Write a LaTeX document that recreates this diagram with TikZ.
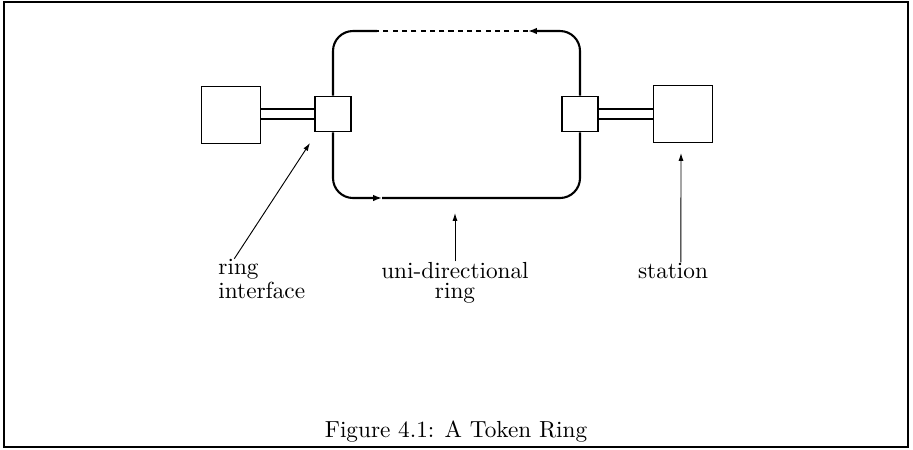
\documentclass[tikz,border=0pt]{standalone}
\usepackage{tikz}
\usetikzlibrary{arrows.meta, positioning, calc}
\newcommand{\pxu}{0.43pt}

\begin{document}
\begin{tikzpicture}[
  x=\pxu, y=-\pxu,
  station/.style = {rectangle, draw, line width=0.8pt, fill=white,
                    minimum width=59*\pxu, minimum height=57*\pxu, inner sep=0pt},
  iface/.style   = {rectangle, draw, line width=0.8pt, fill=white,
                    minimum width=36*\pxu, minimum height=35*\pxu, inner sep=0pt},
  ring/.style    = {line width=0.9pt, rounded corners=8.6pt},
  tokenpath/.style = {line width=0.9pt, dash pattern=on 2.2pt off 1.8pt},
  tip/.style     = {-{Latex[length=3.8pt, width=2.8pt]}},
  link/.style    = {double, double distance=3.7pt, line width=0.55pt},
  pointer/.style = {-{Latex[length=3.4pt, width=2.2pt]}, line width=0.4pt},
  lbl/.style     = {inner sep=0pt, font=\fontsize{10}{8.6}\selectfont}
]
\useasboundingbox (0,0) rectangle (913,449);

% ── Frame ────────────────────────────────────────────────────────────────────
\draw[line width=0.8pt] (4,2) rectangle (908,447);

% ── Stations and ring interfaces ─────────────────────────────────────────────
\node[station] (lst) at (231,115) {};
\node[iface]   (lif) at (333,114) {};
\node[iface]   (rif) at (580,114) {};
\node[station] (rst) at (683,114) {};

\draw[link] (lst.east |- lif) -- (lif);
\draw[link] (rif) -- (rst.west |- rif);

% ── The ring ─────────────────────────────────────────────────────────────────
\coordinate (ba) at (382,198);
\coordinate (ta) at (528,31);
\coordinate (tb) at (377,31);

\draw[ring, tip] (lif.south) |- (ba);
\draw[ring] (ba) -| (rif.south);
\draw[ring, tip] (rif.north) |- (ta);
\draw[tokenpath] (ta) -- (tb);
\draw[ring] (tb) -| (lif.north);

% ── Labels ───────────────────────────────────────────────────────────────────
\node[lbl, anchor=base west, align=left]  (riflbl) at (218,298) {ring\\interface};
\node[lbl, anchor=base, align=center]     (unilbl) at (455,298) {uni-directional\\ring};
\node[lbl, anchor=base]                   (stlbl)  at (673,278) {station};

\coordinate (ifpt)  at (310,143);
\coordinate (unipt) at (455,213);
\coordinate (stpt)  at (681,153);

\draw[pointer] ([xshift=7pt]riflbl.north west) -- (ifpt);
\draw[pointer] (unilbl.north) -- (unipt);
\draw[pointer] ([xshift=3.4pt]stlbl.north) -- (stpt);

% ── Caption ──────────────────────────────────────────────────────────────────
\node[lbl, anchor=base] (caption) at (456,437) {Figure 4.1: A Token Ring};
\end{tikzpicture}
\end{document}
